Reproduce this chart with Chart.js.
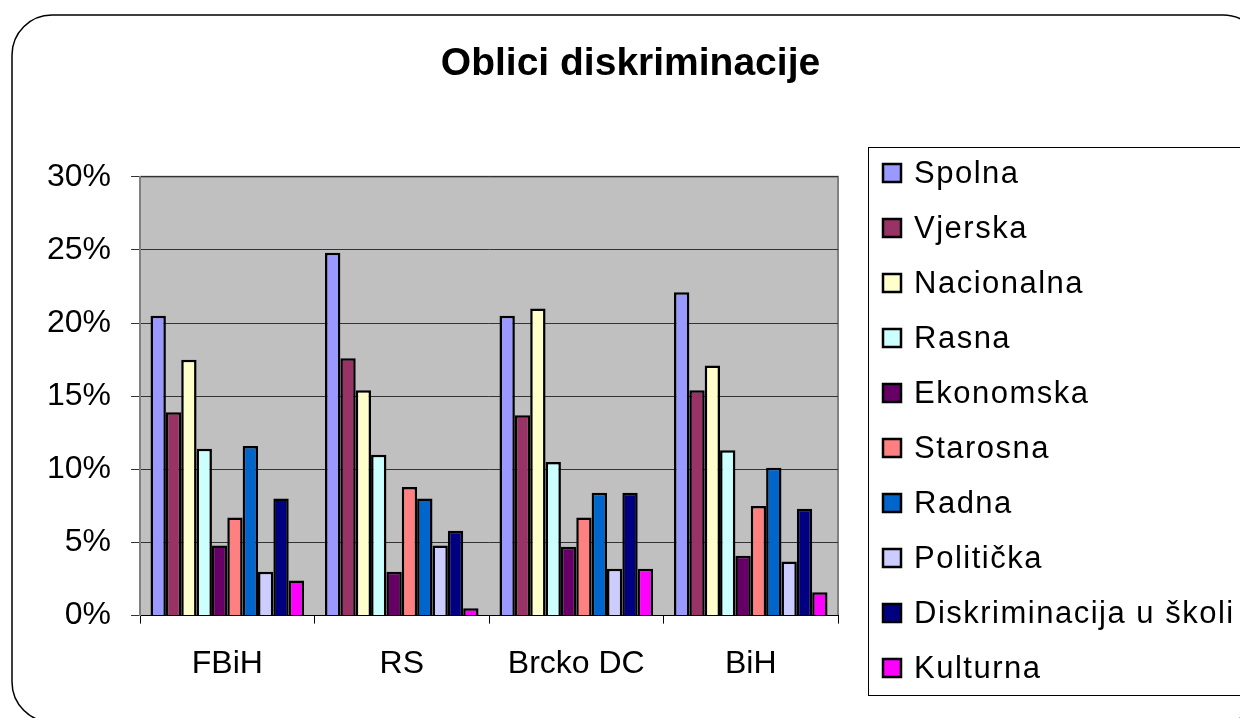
<!DOCTYPE html>
<html>
<head>
<meta charset="utf-8">
<script src="https://cdn.jsdelivr.net/npm/chart.js@4/dist/chart.umd.min.js"></script>
<style>
  html, body { margin: 0; padding: 0; background: #fff; }
  #wrap { width: 1240px; height: 718px; }
</style>
</head>
<body>
<div id="wrap"><canvas id="chartOblici"></canvas></div>
<script>
// --- data (percent) ---
const regions = ['FBiH', 'RS', 'Brcko DC', 'BiH'];
const spolna = [20.5, 24.8, 20.5, 22.1];
const vjerska = [13.9, 17.6, 13.7, 15.4];
const nacionalna = [17.5, 15.4, 21.0, 17.1];
const rasna = [11.4, 11.0, 10.5, 11.3];
const ekonomska = [4.8, 3.0, 4.7, 4.1];
const starosna = [6.7, 8.8, 6.7, 7.5];
const radna = [11.6, 8.0, 8.4, 10.1];
const politicka = [3.0, 4.8, 3.2, 3.7];
const skola = [8.0, 5.8, 8.4, 7.3];
const kulturna = [2.4, 0.5, 3.2, 1.6];
const yTicks = [0, 5, 10, 15, 20, 25, 30];

const FONT = "'Liberation Sans', Arial, sans-serif";

const series = [
    { label: 'Spolna', data: spolna, color: '#9999FF' },
    { label: 'Vjerska', data: vjerska, color: '#993366' },
    { label: 'Nacionalna', data: nacionalna, color: '#FFFFCC' },
    { label: 'Rasna', data: rasna, color: '#CCFFFF' },
    { label: 'Ekonomska', data: ekonomska, color: '#660066' },
    { label: 'Starosna', data: starosna, color: '#FF8080' },
    { label: 'Radna', data: radna, color: '#0066CC' },
    { label: 'Politička', data: politicka, color: '#CCCCFF' },
    { label: 'Diskriminacija u školi', data: skola, color: '#000080' },
    { label: 'Kulturna', data: kulturna, color: '#FF00FF' }
];

// frame, grey plot area
const backdrop = {
    id: 'backdrop',
    beforeDraw(chart) {
        const { ctx, chartArea: a } = chart;
        ctx.save();
        ctx.fillStyle = '#fff';
        ctx.fillRect(0, 0, chart.width, chart.height);

        // rounded outer border (runs off the right/bottom edge)
        const x = 12, y = 15, w = 1251, h = 707, r = 40;
        ctx.beginPath();
        ctx.moveTo(x + r, y);
        ctx.arcTo(x + w, y, x + w, y + h, r);
        ctx.arcTo(x + w, y + h, x, y + h, r);
        ctx.arcTo(x, y + h, x, y, r);
        ctx.arcTo(x, y, x + w, y, r);
        ctx.closePath();
        ctx.strokeStyle = '#000';
        ctx.lineWidth = 1.5;
        ctx.stroke();

        ctx.fillStyle = '#C0C0C0';
        ctx.fillRect(a.left, a.top, a.right - a.left, a.bottom - a.top);
        ctx.strokeStyle = '#808080';
        ctx.lineWidth = 2;
        ctx.beginPath();
        ctx.moveTo(a.left, a.top);
        ctx.lineTo(a.right, a.top);
        ctx.lineTo(a.right, a.bottom);
        ctx.stroke();
        ctx.restore();
    }
};

// boxed legend to the right of the plot
const boxLegend = {
    id: 'boxLegend',
    afterDraw(chart) {
        const { ctx, chartArea: a } = chart;
        const left = a.right + 30, top = 147, bottom = 695;
        const step = 55;
        ctx.save();
        ctx.strokeStyle = '#000';
        ctx.lineWidth = 1;
        ctx.strokeRect(left + 0.5, top + 0.5, 1260 - left, bottom - top);

        ctx.font = '31px ' + FONT;
        ctx.textBaseline = 'middle';
        ctx.textAlign = 'left';
        if ('letterSpacing' in ctx) ctx.letterSpacing = '1.5px';
        chart.data.datasets.forEach((ds, i) => {
            const cy = top + 26 + i * step;
            ctx.fillStyle = ds.backgroundColor;
            ctx.fillRect(left + 15, cy - 9, 18, 18);
            ctx.strokeStyle = '#000';
            ctx.lineWidth = 2.5;
            ctx.strokeRect(left + 15, cy - 9, 18, 18);
            ctx.fillStyle = '#000';
            ctx.fillText(ds.label, left + 46, cy + 1);
        });
        ctx.restore();
    }
};

document.addEventListener('DOMContentLoaded', () => {
    const ctxOblici = document.getElementById('chartOblici');
    new Chart(ctxOblici, {
        type: 'bar',
        data: {
            labels: regions,
            datasets: series.map(s => ({
                label: s.label,
                data: s.data,
                backgroundColor: s.color,
                borderColor: '#000',
                borderWidth: 2.5,
                categoryPercentage: 0.88,
                barPercentage: 1
            }))
        },
        options: {
            responsive: true,
            maintainAspectRatio: false,
            animation: false,
            layout: { padding: { left: 27, right: 6, top: 20, bottom: 14 } },
            plugins: {
                legend: { display: false },
                tooltip: { enabled: false },
                title: {
                    display: true,
                    text: 'Oblici diskriminacije',
                    color: '#000',
                    font: { family: FONT, size: 39, weight: 'bold' },
                    padding: { top: 21, bottom: 89 }
                }
            },
            scales: {
                x: {
                    grid: { display: true, drawOnChartArea: false, drawTicks: true, tickLength: 8, color: '#000', offset: true },
                    border: { display: true, color: '#000', width: 1 },
                    ticks: { color: '#000', padding: 21, font: { family: FONT, size: 32 } }
                },
                y: {
                    min: 0,
                    max: 30,
                    afterBuildTicks: scale => { scale.ticks = yTicks.map(v => ({ value: v })); },
                    grid: { color: '#333', tickLength: 9, lineWidth: 1 },
                    border: { display: true, color: '#808080', width: 2 },
                    ticks: { color: '#000', padding: 20, font: { family: FONT, size: 32 }, callback: v => v + '%' }
                },
                pad: {
                    type: 'linear',
                    position: 'right',
                    display: true,
                    grid: { display: false, drawTicks: false },
                    border: { display: false },
                    ticks: { display: false },
                    afterFit: scale => { scale.width = 396; }
                }
            }
        },
        plugins: [backdrop, boxLegend]
    });
});
</script>
</body>
</html>
